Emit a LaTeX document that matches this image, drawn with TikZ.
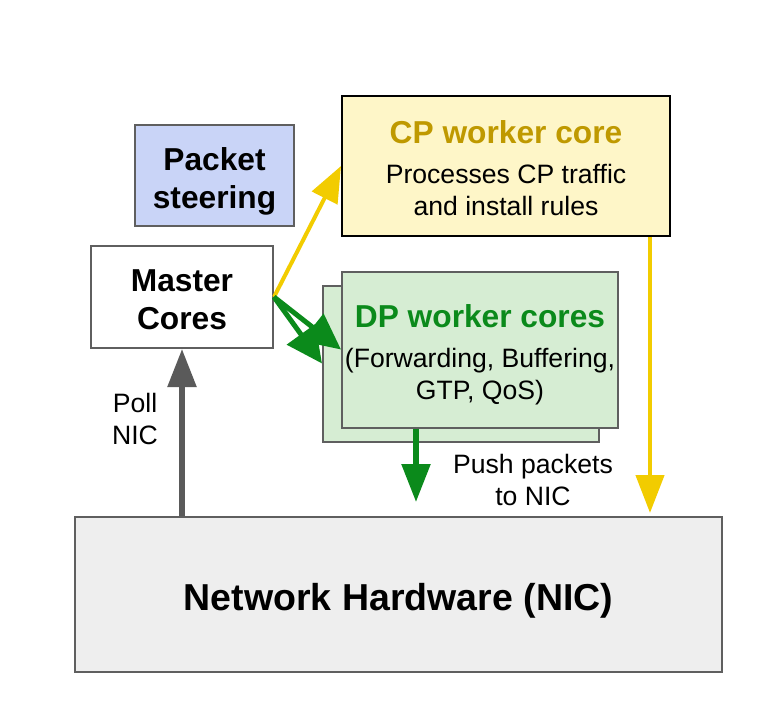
\documentclass[tikz,border=0pt]{standalone}
\usepackage{fontspec}
\setmainfont{Liberation Sans}
\usetikzlibrary{arrows.meta}
\definecolor{boxgray}{HTML}{5F5F5F}
\definecolor{steerblue}{HTML}{C9D4F7}
\definecolor{cpfill}{HTML}{FEF6C8}
\definecolor{cptitle}{HTML}{BF9900}
\definecolor{dpfill}{HTML}{D6EDD3}
\definecolor{dpgreen}{HTML}{0B8A1B}
\definecolor{nicfill}{HTML}{EEEEEE}
\definecolor{cpyellow}{HTML}{F2CC00}
\definecolor{pollgray}{HTML}{5A5A5A}
\newcommand{\padtop}[1]{\rule{0pt}{#1}}

\begin{document}
\begin{tikzpicture}[x=1pt, y=-1pt] %Master / worker cores
   \tikzstyle{box} = [rectangle, draw=boxgray, line width=2pt, inner sep=0pt, text depth=0pt, text centered, align=center]
   \tikzstyle{titletext} = [font=\fontsize{31.7}{38}\selectfont\bfseries]
   \tikzstyle{plaintext} = [font=\fontsize{26.6}{32}\selectfont, text centered, align=center]
   \useasboundingbox (0,0) rectangle (760,709);
   \node[box, titletext, fill=steerblue, minimum width=159pt, minimum height=101pt] (steering) at (214.5,175.5) {\padtop{27pt}Packet\\steering};
   \node[box, titletext, fill=white, minimum width=182pt, minimum height=102pt] (master) at (182,297) {\padtop{27pt}Master\\Cores};
   \node[box, plaintext, draw=black, fill=cpfill, minimum width=328pt, minimum height=140pt] (cp) at (506,166) {{\fontsize{31.7}{38}\selectfont\bfseries\color{cptitle}\padtop{27pt}CP worker core}\\[8pt]Processes CP traffic\\and install rules};
   \node[box, fill=dpfill, minimum width=276pt, minimum height=156pt] (dpback) at (461,363.5) {};
   \node[box, plaintext, fill=dpfill, minimum width=276pt, minimum height=156pt] (dp) at (480,349.5) {{\fontsize{31.7}{38}\selectfont\bfseries\color{dpgreen}\padtop{27pt}DP worker cores}\\[8pt](Forwarding, Buffering,\\GTP, QoS)};
   \node[box, font=\fontsize{37.5}{44}\selectfont\bfseries, fill=nicfill, minimum width=647pt, minimum height=155pt] (nic) at (398.5,594.5) {\padtop{31.5pt}Network Hardware (NIC)};
   \node[plaintext] (poll) at (135,419) {Poll\\NIC};
   \node[plaintext] (push) at (533,480) {Push packets\\to NIC};
   \coordinate (pushend) at (416,502);
   \coordinate (ruleend) at (650,513);
   \draw[-{Triangle[length=38pt,width=28pt]}, line width=5.5pt, pollgray] (master.south |- nic.north) -- (master.south);
   \draw[-{Triangle[length=36pt,width=28pt]}, line width=4pt, cpyellow] (master.east) -- (cp.west);
   \draw[-{Triangle[length=36pt,width=34pt]}, line width=5pt, dpgreen] (master.east) -- (dpback.west);
   \draw[-{Triangle[length=36pt,width=34pt]}, line width=5pt, dpgreen] (master.east) -- (dp.west);
   \draw[-{Triangle[length=38pt,width=28pt]}, line width=5.5pt, dpgreen] (pushend |- dp.south) -- (pushend);
   \draw[-{Triangle[length=38pt,width=28pt]}, line width=4.5pt, cpyellow] (ruleend |- cp.south) -- (ruleend);
\end{tikzpicture}
\end{document}
